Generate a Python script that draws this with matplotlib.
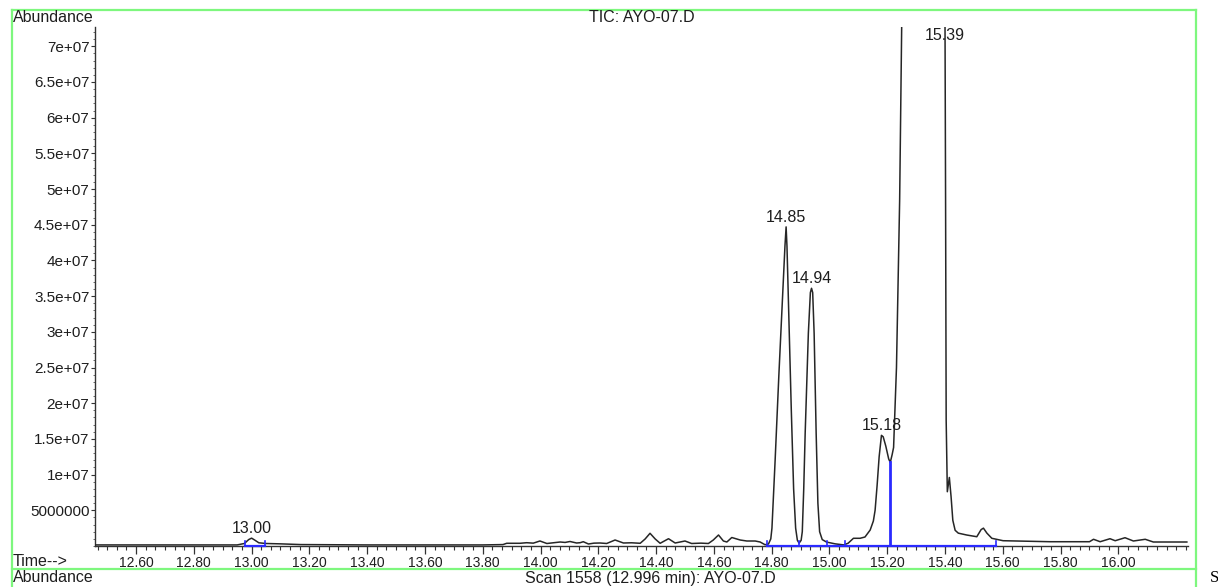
import numpy as np
import matplotlib
matplotlib.use("Agg")
import matplotlib.pyplot as plt
from matplotlib.ticker import FixedLocator, MultipleLocator
from matplotlib.lines import Line2D

# TIC trace, time in min, abundance in units of 1e6 (values above the axis top are clipped)
time_min = [
    12.46, 12.60, 12.80, 12.95, 12.975, 12.99, 13.00, 13.01, 13.025, 13.05, 13.10, 13.17,
    13.40, 13.60, 13.80, 13.87, 13.883, 13.929, 13.952, 13.975, 13.998, 14.022, 14.045,
    14.068, 14.085, 14.102, 14.125, 14.137, 14.148, 14.166, 14.185, 14.206, 14.229, 14.258,
    14.287, 14.315, 14.345, 14.362, 14.379, 14.397, 14.414, 14.443, 14.466, 14.500, 14.523,
    14.555, 14.581, 14.598, 14.616, 14.633, 14.645, 14.662, 14.691, 14.714, 14.743, 14.760,
    14.777, 14.789,
    # 14.85
    14.797, 14.801, 14.812, 14.825, 14.838, 14.846, 14.850, 14.853, 14.860, 14.868, 14.876,
    14.883, 14.889, 14.895,
    # 14.94
    14.902, 14.906, 14.911, 14.916, 14.927, 14.934, 14.938, 14.942, 14.947, 14.954, 14.960,
    14.966, 14.975, 14.990, 15.020, 15.050,
    # 15.18 and the big one
    15.065, 15.083, 15.106, 15.123, 15.141, 15.152, 15.158, 15.165, 15.172, 15.180, 15.186,
    15.195, 15.205, 15.2105, 15.217, 15.222, 15.232, 15.243, 15.250, 15.256, 15.300, 15.350,
    15.395, 15.400, 15.402, 15.404, 15.408, 15.415, 15.421, 15.427, 15.435, 15.446, 15.475,
    15.510, 15.525, 15.533, 15.545, 15.562, 15.601, 15.764, 15.900, 15.914, 15.937, 15.971,
    15.989, 16.023, 16.052, 16.093, 16.121, 16.168, 16.237,
]
abund_e6 = [
    0.15, 0.15, 0.15, 0.15, 0.35, 0.9, 1.1, 0.85, 0.45, 0.35, 0.3, 0.2,
    0.15, 0.15, 0.15, 0.2, 0.38, 0.38, 0.46, 0.4, 0.7, 0.35, 0.45,
    0.56, 0.5, 0.63, 0.42, 0.46, 0.6, 0.28, 0.4, 0.42, 0.35, 0.84,
    0.42, 0.45, 0.38, 0.98, 1.78, 0.98, 0.38, 1.02, 0.42, 0.7, 0.35,
    0.4, 0.35, 0.84, 1.54, 0.7, 0.56, 1.19, 0.84, 0.7, 0.7, 0.56,
    0.18, 0.28,
    1.0, 2.5, 12.0, 24.0, 35.0, 42.0, 44.7, 42.0, 31.0, 19.0, 8.0,
    2.5, 0.8, 0.4,
    0.8, 2.0, 8.0, 15.8, 29.8, 35.5, 36.1, 35.5, 29.8, 15.8, 6.0,
    2.0, 0.9, 0.55, 0.3, 0.15,
    0.4, 1.08, 1.08, 1.26, 2.24, 3.5, 5.0, 8.5, 12.5, 15.5, 15.3,
    14.0, 12.2, 11.7, 12.8, 13.8, 25.0, 48.5, 72.7, 85.0, 90.0, 90.0,
    85.0, 73.0, 48.0, 17.6, 7.6, 9.6, 6.9, 3.6, 2.2, 1.8, 1.54,
    1.3, 2.3, 2.5, 1.8, 1.08, 0.74, 0.6, 0.6, 0.94, 0.6, 1.02,
    0.74, 1.16, 0.7, 0.94, 0.56, 0.56, 0.56,
]

peak_times = [13.00, 14.85, 14.94, 15.18]
peak_heights_e6 = [1.1, 44.7, 36.1, 15.5]
peak_labels = ["13.00", "14.85", "14.94", "15.18"]
clipped_peak_time = 15.40
clipped_peak_label = "15.39"

# integration baselines (blue) and their event marks
base_segments = [(12.977, 13.047), (14.783, 15.577)]
base_marks = [12.977, 13.047, 14.783, 14.893, 14.99, 15.054, 15.577]
drop_time = 15.21
drop_height_e6 = 11.7

ytick_vals = [5e6, 1e7, 1.5e7, 2e7, 2.5e7, 3e7, 3.5e7, 4e7, 4.5e7, 5e7, 5.5e7, 6e7, 6.5e7, 7e7]
ytick_labels = ["5000000", "1e+07", "1.5e+07", "2e+07", "2.5e+07", "3e+07", "3.5e+07",
                "4e+07", "4.5e+07", "5e+07", "5.5e+07", "6e+07", "6.5e+07", "7e+07"]
xtick_vals = [12.6, 12.8, 13.0, 13.2, 13.4, 13.6, 13.8, 14.0, 14.2, 14.4, 14.6, 14.8,
              15.0, 15.2, 15.4, 15.6, 15.8, 16.0]

plt.rcParams['font.family'] = ['Liberation Sans', 'DejaVu Sans']
TXT = '#1e1e1e'
GREEN = '#7ef77e'
BLUE = '#2a2aff'
FS_TXT = 11.5

fig = plt.figure(figsize=(12.18, 5.87), dpi=100)
ax = fig.add_axes([95 / 1218, 1 - 546 / 587, (1188 - 95) / 1218, (546 - 27) / 587])

t = np.array(time_min)
y = np.array(abund_e6) * 1e6
ax.plot(t, y, color='#262626', lw=1.1, zorder=3)

# blue integration baseline
for a, b in base_segments:
    ax.plot([a, b], [0, 0], color=BLUE, lw=1.6, zorder=4, clip_on=False)
for m in base_marks:
    ax.plot([m, m], [0, 0.7e6], color=BLUE, lw=1.2, zorder=4)
ax.plot([drop_time, drop_time], [0, drop_height_e6 * 1e6], color=BLUE, lw=2.0, zorder=4)

ax.set_xlim(12.458, 16.241)
ax.set_ylim(0, 7.27e7)

for pt, ph, lab in zip(peak_times, peak_heights_e6, peak_labels):
    ax.annotate(lab, xy=(pt, ph * 1e6), xytext=(0, 1.5), textcoords='offset points',
                ha='center', va='bottom', fontsize=FS_TXT, color=TXT, zorder=5)
ax.annotate(clipped_peak_label, xy=(clipped_peak_time, 7.27e7), xytext=(0, -6),
            textcoords='offset points', ha='center', va='center', fontsize=FS_TXT,
            color=TXT, zorder=2)

for s in ['top', 'right']:
    ax.spines[s].set_visible(False)
for s in ['left', 'bottom']:
    ax.spines[s].set_color('#333333')
    ax.spines[s].set_linewidth(1.0)

ax.xaxis.set_major_locator(FixedLocator(xtick_vals))
ax.set_xticklabels([f"{v:.2f}" for v in xtick_vals])
ax.xaxis.set_minor_locator(MultipleLocator(0.2 / 6))
ax.yaxis.set_major_locator(FixedLocator(ytick_vals))
ax.set_yticklabels(ytick_labels)
ax.yaxis.set_minor_locator(MultipleLocator(1e6))
ax.tick_params(axis='x', which='major', length=5.5, width=0.9, pad=1.5, labelsize=10,
               colors='#333333', labelcolor=TXT)
ax.tick_params(axis='x', which='minor', length=3, width=0.8, colors='#333333')
ax.tick_params(axis='y', which='major', length=3, width=0.8, pad=1, labelsize=11,
               colors='#333333', labelcolor=TXT)
ax.tick_params(axis='y', which='minor', length=1.5, width=0.6, colors='#555555')

# header / footer texts
fig.text(13 / 1218, 1 - 18 / 587, "Abundance", fontsize=FS_TXT, color=TXT, ha='left', va='center')
fig.text(642 / 1218, 1 - 17 / 587, "TIC: AYO-07.D", fontsize=FS_TXT, color=TXT,
         ha='center', va='center')
fig.text(13 / 1218, 1 - 561 / 587, "Time-->", fontsize=FS_TXT, color=TXT, ha='left', va='center')
fig.text(13 / 1218, 1 - 578 / 587, "Abundance", fontsize=FS_TXT, color=TXT, ha='left', va='center')
fig.text(650 / 1218, 1 - 578 / 587, "Scan 1558 (12.996 min): AYO-07.D", fontsize=FS_TXT,
         color=TXT, ha='center', va='center')
fig.text(1210 / 1218, 1 - 578 / 587, "S", fontsize=12, color='black', ha='left', va='center',
         family=['Liberation Serif', 'DejaVu Serif'])

# green frame
gx0, gx1 = 12 / 1218, 1196 / 1218
gy_top, gy_mid = 1 - 10 / 587, 1 - 569 / 587
for xs, ys in [([gx0, gx1], [gy_top, gy_top]), ([gx0, gx1], [gy_mid, gy_mid]),
               ([gx0, gx0], [gy_top, 0]), ([gx1, gx1], [gy_top, 0])]:
    fig.add_artist(Line2D(xs, ys, color=GREEN, lw=1.6, transform=fig.transFigure))

fig.savefig("out.png", dpi=100)
